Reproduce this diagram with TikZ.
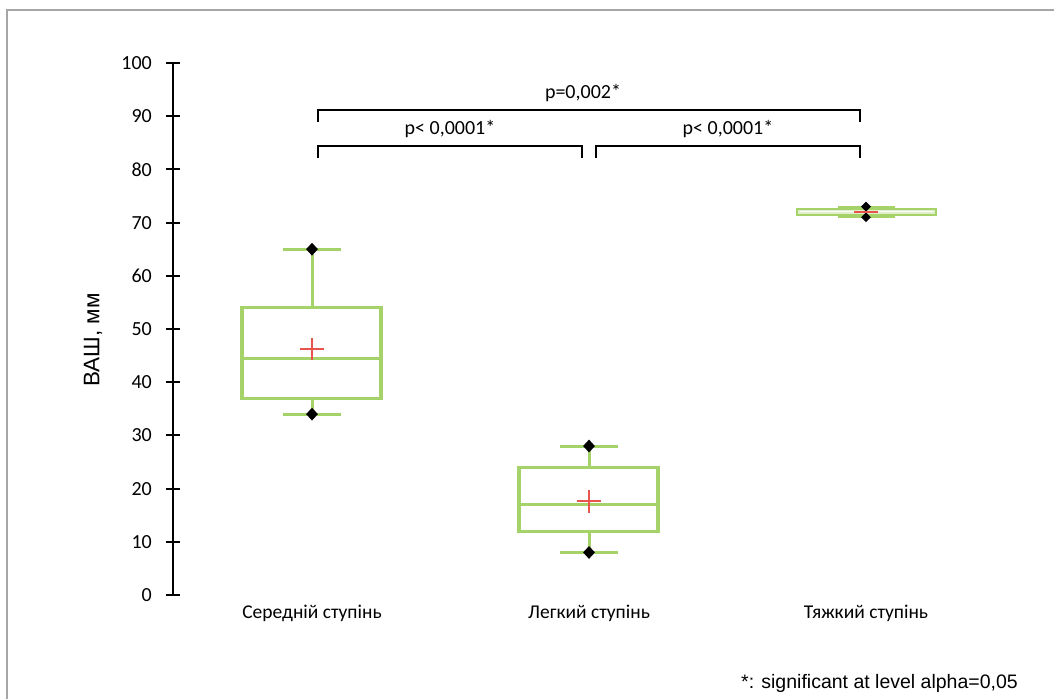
\documentclass[tikz,border=0pt]{standalone}
\usepackage{fontspec}
\setmainfont{Carlito}
\newfontfamily\arialf{Liberation Sans}
\usetikzlibrary{shapes.geometric}
\definecolor{boxgreen}{RGB}{166,210,106}
\definecolor{meanred}{RGB}{232,84,76}
\definecolor{framegray}{RGB}{166,166,166}
\tikzset{
  boxline/.style={draw=boxgreen, line width=3.2pt},
  capline/.style={draw=boxgreen, line width=3pt},
  meanplus/.style={draw=meanred, line width=1.8pt},
  dotmark/.style={diamond, fill=black, inner sep=0pt, minimum width=12pt, minimum height=13pt},
  axisline/.style={draw=black, line width=2pt},
  bracketline/.style={draw=black, line width=1.8pt},
  ticklbl/.style={anchor=east, inner sep=0pt, font=\fontsize{20}{24}\selectfont},
  catlbl/.style={inner sep=0pt, font=\fontsize{19.5}{23}\selectfont},
  plbl/.style={inner sep=0pt, font=\fontsize{20}{24}\selectfont},
}
\begin{document}
\begin{tikzpicture}[x=1pt, y=-1pt]
\useasboundingbox (0,0) rectangle (1054,699);
\fill[white] (0,0) rectangle (1054,699);
% frame
\draw[framegray, line width=2pt] (7,699) -- (7,10) -- (1054,10);

% axis
\coordinate (ax0) at (173,595);
\coordinate (ax100) at (173,63);
\draw[axisline] (ax0) -- (ax100);
\foreach \v in {0,10,...,100} {
  \draw[axisline] (166,{595-5.32*\v}) -- (180,{595-5.32*\v});
  \node[ticklbl] (t\v) at (152,{595-5.32*\v}) {\v};
}
\node[rotate=90, inner sep=0pt, font=\arialf\fontsize{22.5}{26}\selectfont] (ytitle) at (93,340) {ВАШ, мм};

% data scope: x in px, y in data units
\begin{scope}[yshift=-595pt, y=5.32pt]
  % box 1
  \draw[capline] (312,34) -- (312,37);
  \draw[capline] (312,54) -- (312,65);
  \draw[capline] (283,65) -- (341,65);
  \draw[capline] (283,34) -- (341,34);
  \draw[boxline] (242,37) rectangle (381,54);
  \draw[boxline] (242,44.5) -- (381,44.5);
  \node[dotmark] (d1a) at (312,65) {};
  \node[dotmark] (d1b) at (312,34) {};
  \draw[meanplus] (300,46.2) -- (324,46.2) (312,44.1) -- (312,48.3);
  % box 2
  \draw[capline] (589,8) -- (589,12);
  \draw[capline] (589,24) -- (589,28);
  \draw[capline] (560,28) -- (618,28);
  \draw[capline] (560,8) -- (618,8);
  \draw[boxline] (519,12) rectangle (658,24);
  \draw[boxline] (519,17) -- (658,17);
  \node[dotmark] (d2a) at (589,28) {};
  \node[dotmark] (d2b) at (589,8) {};
  \draw[meanplus] (577,17.6) -- (601,17.6) (589,15.5) -- (589,19.7);
  % box 3
  \draw[capline, line width=2.2pt] (838,73) -- (895,73);
  \draw[capline, line width=2.2pt] (838,71) -- (895,71);
  \draw[draw=boxgreen, line width=2.4pt, fill=boxgreen!35] (797,71.45) rectangle (936,72.55);
  \draw[draw=white, line width=1pt] (800,72) -- (933,72);
  \node[dotmark, minimum width=10pt, minimum height=10pt] (d3a) at (866,73) {};
  \node[dotmark, minimum width=10pt, minimum height=10pt] (d3b) at (866,71) {};
  \draw[meanred, line width=1.8pt] (854,72) -- (878,72);
\end{scope}

% category labels
\node[catlbl] (c1) at (312,613) {Середній ступінь};
\node[catlbl] (c2) at (589,613) {Легкий ступінь};
\node[catlbl] (c3) at (866,613) {Тяжкий ступінь};

% brackets
\coordinate (bA1) at (318,122); \coordinate (bA2) at (318,110);
\coordinate (bA3) at (860,110); \coordinate (bA4) at (860,122);
\draw[bracketline] (bA1) -- (bA2) -- (bA3) -- (bA4);
\coordinate (bB1) at (318,158); \coordinate (bB2) at (318,146);
\coordinate (bB3) at (582,146); \coordinate (bB4) at (582,158);
\draw[bracketline] (bB1) -- (bB2) -- (bB3) -- (bB4);
\coordinate (bC1) at (596,158); \coordinate (bC2) at (596,146);
\coordinate (bC3) at (860,146); \coordinate (bC4) at (860,158);
\draw[bracketline] (bC1) -- (bC2) -- (bC3) -- (bC4);
\node[plbl] (p1) at (583,93) {p=0,002*};
\node[plbl] (p2) at (450,129) {p< 0,0001*};
\node[plbl] (p3) at (728,129) {p< 0,0001*};

% footnote
\node[anchor=east, inner sep=0pt, font=\arialf\fontsize{19.5}{23}\selectfont] (foot) at (1018,683) {*: significant at level alpha=0,05};
\end{tikzpicture}
\end{document}
